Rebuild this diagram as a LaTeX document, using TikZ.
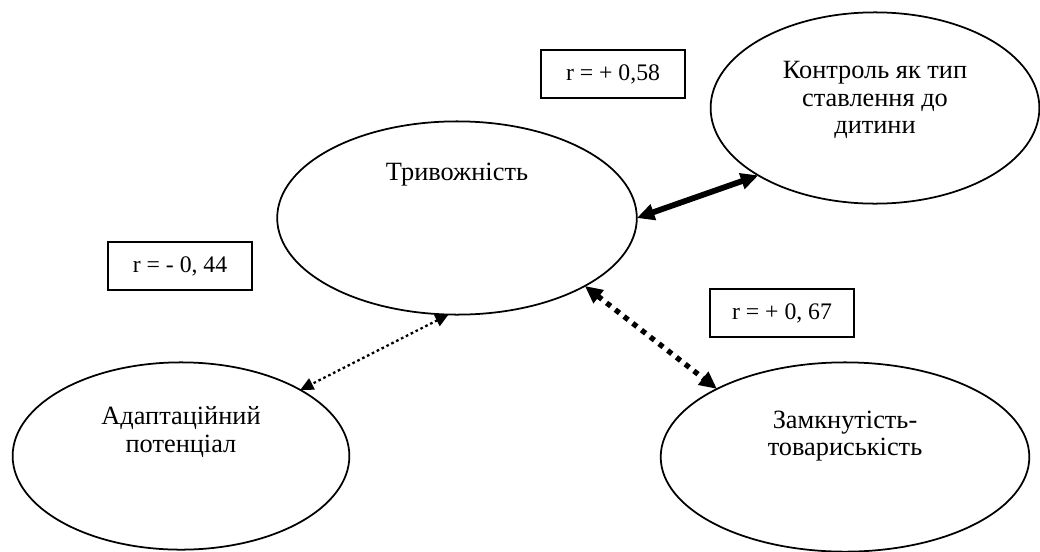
\documentclass[tikz,border=0pt]{standalone}
\usepackage{fontspec}
\setmainfont{Liberation Serif}
\usetikzlibrary{arrows.meta,shapes.geometric}
\tikzset{
  oval/.style={draw, ellipse, line width=1pt, inner sep=0pt, outer sep=0pt},
  ovaltext/.style={font=\fontsize{15}{15.5}\selectfont, align=center, inner sep=0pt},
  rbox/.style={draw, line width=1pt, minimum width=145*0.567pt, minimum height=48*0.567pt, inner sep=0pt, font=\fontsize{13.5}{15}\selectfont},
  boldlink/.style={line width=3.3pt, {Triangle[length=10pt,width=9pt]}-{Triangle[length=10pt,width=9pt]}},
  thinlink/.style={line width=1.3pt, dash pattern=on 1.5pt off 1.6pt, {Triangle[length=7.5pt,width=7pt]}-{Triangle[length=7.5pt,width=7pt]}},
  dotlink/.style={line width=3pt, dash pattern=on 3pt off 3.3pt, {Triangle[length=10pt,width=9pt]}-{Triangle[length=10pt,width=9pt]}},
}
\begin{document}
\begin{tikzpicture}[x=0.02cm, y=-0.02cm]
\useasboundingbox (0,0) rectangle (1040,551);
\clip (0,0) rectangle (1040,551);
% ellipses
\node[oval, minimum width=361*0.567pt, minimum height=194*0.567pt] (T) at (457,218) {};
\node[oval, minimum width=330*0.567pt, minimum height=192*0.567pt] (K) at (875,108) {};
\node[oval, minimum width=338*0.567pt, minimum height=188*0.567pt] (A) at (181,456) {};
\node[oval, minimum width=370*0.567pt, minimum height=190*0.567pt] (Z) at (845,457) {};
% texts
\node[ovaltext] (tT) at (457,175) {Тривожність};
\node[ovaltext] (tK) at (875,100) {Контроль як тип\\ставлення до\\дитини};
\node[ovaltext] (tA) at (181,432) {Адаптаційний\\потенціал};
\node[ovaltext] (tZ) at (845,436) {Замкнутість-\\товариськість};
% boxes
\node[rbox] (b1) at (613,74) {r = + 0,58};
\node[rbox] (b2) at (180,266) {r = - 0, 44};
\node[rbox] (b3) at (782,313) {r = + 0, 67};
% connectors
\draw[boldlink] (T.0) -- (K.210);
\draw[thinlink] (T.265) -- (A.29);
\draw[dotlink] (T.-28) -- (Z.152);
\end{tikzpicture}
\end{document}
